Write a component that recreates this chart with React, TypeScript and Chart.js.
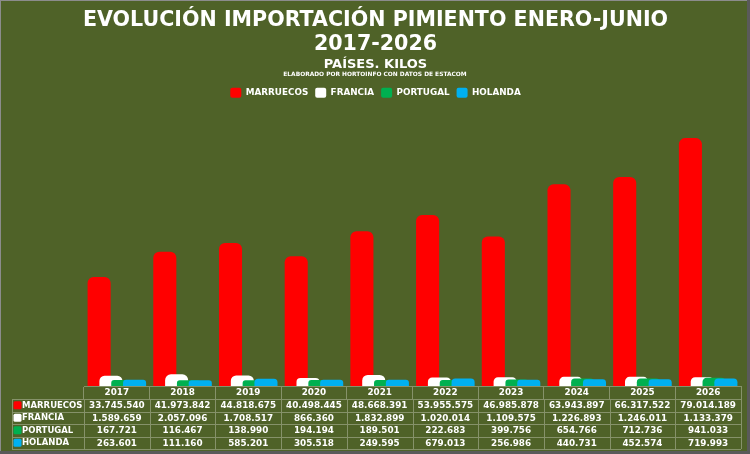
import React, { useEffect, useRef } from 'react';
import { Chart, registerables } from 'chart.js';

Chart.register(...registerables);

const years = ['2017', '2018', '2019', '2020', '2021', '2022', '2023', '2024', '2025', '2026'];
const marruecos = [33745540, 41973842, 44818675, 40498445, 48668391, 53955575, 46985878, 63943897, 66317522, 79014189];
const francia = [1589659, 2057096, 1708517, 866360, 1832899, 1020014, 1109575, 1226893, 1246011, 1133379];
const portugal = [167721, 116467, 138990, 194194, 189501, 222683, 399756, 654766, 712736, 941033];
const holanda = [263601, 111160, 585201, 305518, 249595, 679013, 256986, 440731, 452574, 719993];
const seriesNames = ['MARRUECOS', 'FRANCIA', 'PORTUGAL', 'HOLANDA'];
const seriesColors = ['#FF0000', '#FFFFFF', '#00B050', '#00B0F0'];

// el eje de Excel arranca un poco por debajo de cero
const Y_MIN = -1750000;
const Y_MAX = 90000000;

const BG = '#4F6228';
const GRID = '#86926A';
const FONT = 'DejaVu Sans';

const fmt = (v: number) => String(v).replace(/\B(?=(\d{3})+(?!\d))/g, '.');

// fondo y marco
const backgroundPlugin = {
  id: 'bg',
  beforeDraw(chart: any) {
    const { ctx, width, height } = chart;
    ctx.save();
    ctx.fillStyle = BG;
    ctx.fillRect(0, 0, width, height);
    ctx.fillStyle = '#8C8C8C';
    ctx.fillRect(0, 0, width, 1);
    ctx.fillRect(0, 0, 1, height);
    ctx.fillStyle = '#5A5A5A';
    ctx.fillRect(width - 3, 0, 3, height);
    ctx.fillRect(0, height - 3, width, 3);
    ctx.restore();
  },
};

// las series posteriores se pintan encima (como en Excel)
const drawOrderPlugin = {
  id: 'drawOrder',
  beforeDatasetsDraw(chart: any) {
    for (let i = 0; i < chart.data.datasets.length; i++) {
      const meta = chart.getDatasetMeta(i);
      if (meta.visible) meta.controller.draw();
    }
    return false;
  },
};

const creditPlugin = {
  id: 'credit',
  afterDraw(chart: any) {
    const { ctx, width } = chart;
    ctx.save();
    ctx.fillStyle = '#FFFFFF';
    ctx.font = `bold 5.9px ${FONT}`;
    ctx.textAlign = 'center';
    ctx.textBaseline = 'middle';
    ctx.fillText('ELABORADO POR HORTOINFO CON DATOS DE ESTACOM', width / 2, 74);
    ctx.restore();
  },
};

// tabla de datos bajo el eje X
const tablePlugin = {
  id: 'dataTable',
  afterDraw(chart: any) {
    const { ctx } = chart;
    const xs = chart.scales.x;
    const n = chart.data.labels.length;
    const colW = xs.width / n;
    const top = chart.chartArea.bottom;
    const headH = 13;
    const rowH = 12.5;
    const tableLeft = 12;
    const rowsTop = top + headH;
    const datasets = chart.data.datasets;

    ctx.save();
    ctx.strokeStyle = GRID;
    ctx.lineWidth = 1;
    ctx.beginPath();
    for (let r = 0; r <= datasets.length; r++) {
      const y = Math.round(rowsTop + r * rowH) + 0.5;
      ctx.moveTo(tableLeft, y);
      ctx.lineTo(xs.right, y);
    }
    const bottom = rowsTop + datasets.length * rowH;
    ctx.moveTo(tableLeft + 0.5, rowsTop);
    ctx.lineTo(tableLeft + 0.5, bottom);
    for (let c = 0; c <= n; c++) {
      const x = Math.round(xs.left + c * colW) + 0.5;
      ctx.moveTo(x, rowsTop);
      ctx.lineTo(x, bottom);
    }
    ctx.stroke();

    ctx.textBaseline = 'middle';
    datasets.forEach((ds: any, r: number) => {
      const cy = rowsTop + r * rowH + rowH / 2 + 0.5;
      ctx.fillStyle = ds.backgroundColor;
      ctx.beginPath();
      ctx.roundRect(13.5, cy - 4.5, 8, 8, 1.5);
      ctx.fill();
      ctx.fillStyle = '#FFFFFF';
      ctx.textAlign = 'left';
      ctx.font = `bold 8.5px ${FONT}`;
      ctx.fillText(ds.label, 22, cy);
      ctx.textAlign = 'center';
      ctx.font = `bold 8.8px ${FONT}`;
      ds.data.forEach((v: number, c: number) => {
        ctx.fillText(fmt(v), xs.left + (c + 0.5) * colW, cy);
      });
    });
    ctx.restore();
  },
};

const App: React.FC = () => {
  const chartRef = useRef<HTMLCanvasElement>(null);

  useEffect(() => {
    document.body.style.margin = '0';
    if (!chartRef.current) return;
    const ctx = chartRef.current.getContext('2d');
    if (!ctx) return;

    const values = [marruecos, francia, portugal, holanda];

    const chart = new Chart(ctx, {
      type: 'bar',
      data: {
        labels: years,
        datasets: seriesNames.map((name, i) => ({
          label: name,
          data: values[i],
          base: Y_MIN,
          backgroundColor: seriesColors[i],
          borderWidth: 0,
          borderRadius: { topLeft: 6, topRight: 6, bottomLeft: 0, bottomRight: 0 },
          borderSkipped: 'bottom',
          categoryPercentage: 0.72,
          barPercentage: 1.95,
        })),
      },
      options: {
        animation: false,
        responsive: true,
        maintainAspectRatio: false,
        layout: { padding: { left: 10, right: 9, top: 0, bottom: 55 } },
        plugins: {
          title: {
            display: true,
            text: ['EVOLUCIÓN IMPORTACIÓN PIMIENTO ENERO-JUNIO', '2017-2026'],
            color: '#FFFFFF',
            font: { family: FONT, size: 20.6, weight: 'bold', lineHeight: 1.17 },
            padding: { top: 8.5, bottom: 0 },
          },
          subtitle: {
            display: true,
            text: 'PAÍSES. KILOS',
            color: '#FFFFFF',
            font: { family: FONT, size: 13, weight: 'bold', lineHeight: 1.2 },
            padding: { top: 0, bottom: 8.4 },
          },
          legend: {
            display: true,
            position: 'top',
            maxHeight: 23.7,
            labels: {
              color: '#FFFFFF',
              font: { family: FONT, size: 8.8, weight: 'bold' },
              boxWidth: 11,
              boxHeight: 10,
              padding: 7,
              useBorderRadius: true,
              borderRadius: 2,
            },
          },
          tooltip: { enabled: false },
        },
        scales: {
          x: {
            grid: {
              display: true,
              drawOnChartArea: false,
              drawTicks: true,
              tickLength: 13,
              color: GRID,
              offset: true,
            },
            border: { display: true, color: GRID },
            ticks: {
              color: '#FFFFFF',
              font: { family: FONT, size: 8.8, weight: 'bold' },
              padding: -11.5,
              maxRotation: 0,
              autoSkip: false,
            },
            afterFit: (scale: any) => {
              scale.height = 13;
            },
          },
          y: {
            min: Y_MIN,
            max: Y_MAX,
            grid: { display: false },
            border: { display: false },
            ticks: { display: false },
            afterFit: (scale: any) => {
              scale.width = 74;
            },
          },
        },
      },
      plugins: [backgroundPlugin, drawOrderPlugin, creditPlugin, tablePlugin],
    });

    return () => {
      chart.destroy();
    };
  }, []);

  return (
    <div style={{ position: 'relative', width: 750, height: 454 }}>
      <canvas ref={chartRef} />
    </div>
  );
};

export default App;
